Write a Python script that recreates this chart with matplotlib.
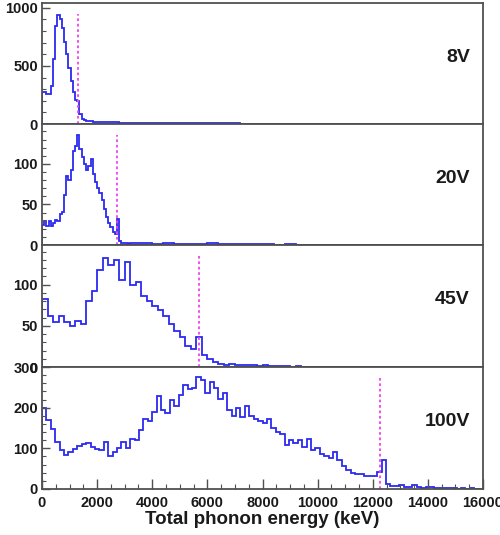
import numpy as np
import matplotlib
matplotlib.use("Agg")
import matplotlib.pyplot as plt
from matplotlib.ticker import MultipleLocator

plt.rcParams['font.family'] = ['Liberation Sans', 'DejaVu Sans']
plt.rcParams['font.weight'] = 'bold'

# ---- data (counts per bin) ----
# 8V and 20V: fine 80 keV bins up to 3200 keV, then 400 keV bins
fine_w = 80
tail_w = 400

counts_8v_fine = [280, 275, 255, 262, 330, 560, 840, 940, 905, 830,
                  710, 600, 480, 370, 280, 205, 195, 85, 45, 32,
                  28, 25, 24, 22, 20, 22, 20, 18, 19, 17,
                  16, 15, 16, 14, 14, 13, 12, 13, 12, 11]
counts_8v_tail = [10, 9, 9, 8, 8, 7, 7, 6, 6, 6, 5, 5, 5, 4, 4, 4,
                  3, 3, 3, 3, 2, 2, 2, 2, 2, 2, 1, 1, 1, 1, 1, 1]

counts_20v_fine = [25, 30, 24, 29, 24, 27, 31, 29, 38, 41,
                   62, 85, 80, 93, 116, 122, 135, 118, 108, 100,
                   93, 97, 106, 88, 78, 70, 64, 56, 45, 34,
                   27, 22, 16, 14, 32, 5, 3, 2, 2, 1]
counts_20v_tail = [2, 2, 1, 2, 1, 1, 1, 2, 1, 1, 1, 1, 1, 0.5, 1, 0.5,
                   0.5, 0.5, 0.5, 0.5, 0.5, 0.3, 0.3, 0.3, 0.3, 0.3, 0.3, 0.3, 0.3, 0.3, 0.3, 0.3]

# 45V: 200 keV bins
w_45v = 200
counts_45v = [83, 62, 55, 62, 55, 50, 56, 52, 80, 92,
              118, 132, 124, 130, 106, 127, 100, 103, 86, 80,
              74, 69, 62, 52, 44, 36, 26, 22, 36, 14,
              10, 6, 4, 3, 4, 2, 3, 2, 2, 1,
              2, 1, 1, 1, 1, 0.5, 1, 0.5, 0.5, 0.5,
              0.5, 0.5, 0.5, 0.5, 0.5, 0.5, 0.5, 0.5, 0.5, 0.5,
              0.3, 0.3, 0.3, 0.3, 0.3, 0.3, 0.3, 0.3, 0.3, 0.3,
              0.3, 0.3, 0.3, 0.3, 0.3, 0.3, 0.3, 0.3, 0.3, 0.3]

# 100V: 160 keV bins
w_100v = 160
counts_100v = [200, 170, 147, 116, 95, 84, 92, 99, 105, 110,
               113, 104, 98, 97, 116, 82, 92, 100, 116, 100,
               123, 120, 145, 172, 166, 190, 228, 195, 187, 220,
               205, 232, 255, 247, 248, 276, 268, 235, 262, 249,
               222, 235, 195, 180, 200, 178, 205, 180, 172, 166,
               162, 172, 150, 141, 136, 108, 120, 112, 120, 103,
               124, 95, 100, 86, 80, 77, 91, 72, 56, 47,
               40, 36, 38, 31, 32, 33, 42, 72, 12, 8,
               8, 10, 6, 5, 9, 4, 3, 5, 4, 2,
               3, 2, 3, 2, 1, 2, 1, 2, 1, 1]

labels = ["8V", "20V", "45V", "100V"]
endpoints = [1306, 2720, 5700, 12260]   # dashed magenta markers, keV
ymax = [1040, 149, 148, 300]

def fine_tail_edges(n_fine, n_tail):
    fine = np.arange(n_fine + 1) * fine_w
    tail = fine[-1] + np.arange(1, n_tail + 1) * tail_w
    return np.concatenate([fine, tail])

hists = [
    (np.array(counts_8v_fine + counts_8v_tail),
     fine_tail_edges(len(counts_8v_fine), len(counts_8v_tail))),
    (np.array(counts_20v_fine + counts_20v_tail),
     fine_tail_edges(len(counts_20v_fine), len(counts_20v_tail))),
    (np.array(counts_45v), np.arange(len(counts_45v) + 1) * w_45v),
    (np.array(counts_100v), np.arange(len(counts_100v) + 1) * w_100v),
]

major_y = [500, 50, 50, 100]
minor_y = [100, 10, 10, 20]

fig = plt.figure(figsize=(5.0, 5.35), dpi=100)
left, width = 0.084, 0.882
bottoms = [0.768, 0.542, 0.314, 0.086]
heights = [0.226, 0.226, 0.228, 0.228]

frame_col = "#505050"
for i in range(4):
    ax = fig.add_axes([left, bottoms[i], width, heights[i]])
    vals, edges = hists[i]
    ax.stairs(vals, edges, color="#2b2bf0", lw=1.3)
    ax.axvline(endpoints[i], ymin=0, ymax=0.91, color="#ee44ee", ls=(0, (1.5, 1.5)), lw=1.3)
    ax.set_xlim(0, 16000)
    ax.set_ylim(0, ymax[i])
    ax.yaxis.set_major_locator(MultipleLocator(major_y[i]))
    ax.yaxis.set_minor_locator(MultipleLocator(minor_y[i]))
    ax.xaxis.set_major_locator(MultipleLocator(2000))
    ax.xaxis.set_minor_locator(MultipleLocator(500))
    ax.tick_params(axis='y', which='major', direction='in', length=6, width=1, colors=frame_col,
                   labelcolor="#1a1a1a", labelsize=10.5, pad=3, right=False)
    ax.tick_params(axis='y', which='minor', direction='in', length=3, width=0.8, colors=frame_col)
    if i < 3:
        ax.tick_params(axis='x', which='both', bottom=False, labelbottom=False)
    else:
        ax.tick_params(axis='x', which='major', direction='in', length=7, width=1, colors=frame_col,
                       labelcolor="#1a1a1a", labelsize=10.5, pad=5)
        ax.tick_params(axis='x', which='minor', direction='in', length=3.5, width=0.8, colors=frame_col)
        ax.set_xlabel("Total phonon energy (keV)", fontsize=13.5, fontweight='bold', color="#1a1a1a", labelpad=1)
    for lab in ax.get_yticklabels() + ax.get_xticklabels():
        lab.set_fontweight('bold')
    for s in ax.spines.values():
        s.set_color(frame_col)
        s.set_linewidth(1.3)
    ax.text(0.97, 0.55, labels[i], transform=ax.transAxes, ha='right', va='center',
            fontsize=14, fontweight='bold', color="#1a1a1a")

fig.savefig("out.png", dpi=100)
